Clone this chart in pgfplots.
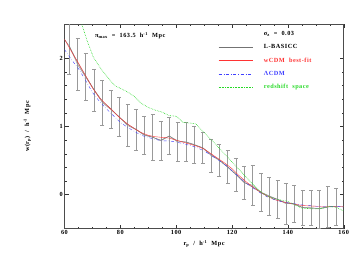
\documentclass[border=0pt]{standalone}
\usepackage{fontspec}
\setmainfont{Liberation Serif}
\newfontfamily\lab{Liberation Serif}[LetterSpace=8]
\usepackage{pgfplots}
\pgfplotsset{compat=1.18}
\usepackage{pgfplotstable}
\definecolor{lgray}{gray}{0.45}
\definecolor{ebgray}{gray}{0.6}
\definecolor{mygreen}{rgb}{0.15,0.85,0.15}
\definecolor{myblue}{rgb}{0.25,0.25,1}
\definecolor{myred}{rgb}{1,0.2,0.2}
\newcommand{\lf}{\fontsize{6.3}{7.5}\selectfont\lab\bfseries}

\pgfplotstableread{
x c e
61.7 2.185 0.415
64.7 1.91 0.38
67.6 1.725 0.345
70.6 1.535 0.305
73.6 1.35 0.33
76.6 1.25 0.28
79.6 1.14 0.29
82.6 1.015 0.305
85.6 0.955 0.305
88.6 0.87 0.28
91.6 0.845 0.335
94.5 0.79 0.28
97.5 0.86 0.27
100.5 0.775 0.285
103.5 0.775 0.285
106.5 0.735 0.275
109.5 0.685 0.225
112.5 0.575 0.245
115.4 0.505 0.235
118.4 0.405 0.245
121.4 0.295 0.245
124.4 0.175 0.245
127.4 0.135 0.295
130.4 0.035 0.285
133.4 -0.02 0.28
136.3 -0.07 0.28
139.3 -0.13 0.30
142.3 -0.135 0.275
145.3 -0.19 0.26
148.3 -0.19 0.26
151.3 -0.21 0.28
154.3 -0.18 0.30
157.3 -0.175 0.275
}\errtab

\begin{document}
\begin{tikzpicture}
\begin{axis}[
  at={(0,0)}, anchor=south west,
  scale only axis, width=279.2bp, height=204.4bp,
  xmin=60, xmax=160, ymin=-0.5, ymax=2.5,
  xtick={60,80,...,160}, ytick={0,1,2},
  minor x tick num=3, minor y tick num=4,
  tick align=inside, major tick length=4bp, minor tick length=2bp,
  xtick pos=both, ytick pos=both,
  xticklabel pos=lower, yticklabel pos=left,
  tick style={black!80, line width=0.4pt},
  axis line style={line width=0.5pt, black!70},
  /pgf/number format/assume math mode=true,
  ticklabel style={font=\lf},
  xticklabel style={inner sep=1pt},
  yticklabel style={inner sep=1.5pt},
  xlabel={r\textsubscript{p}\ \ /\ \ h\textsuperscript{-1}\ \ Mpc},
  ylabel={w(r\textsubscript{p})\ \ /\ \ h\textsuperscript{-1}\ \ Mpc},
  label style={font=\lf},
  xlabel style={at={(axis description cs:0.5,0)}, anchor=north, yshift=-8bp},
  ylabel style={at={(axis description cs:0,0.5)}, anchor=south, yshift=30bp},
  legend cell align=left,
  legend style={draw=none, fill=none, font=\lf,
    at={(axis description cs:0.55,0.975)}, anchor=north west,
    row sep=3.4bp, inner xsep=0pt, inner ysep=0pt,
    /tikz/every odd column/.append style={column sep=9bp}},
  legend image code/.code={\draw[#1] (0bp,0bp) -- (34bp,0bp);},
]
\addplot[ebgray, line width=0.6pt, mark=none, forget plot,
  error bars/.cd, y dir=both, y explicit,
  error bar style={ebgray, line width=0.6pt},
  error mark options={rotate=90, mark size=2bp, ebgray, line width=0.5pt}]
  table[x=x, y=c, y error=e] {\errtab};
\addlegendimage{empty legend}
\addlegendentry{σ\textsubscript{z}\ \ =\ \ 0.03}
\addplot[lgray, line width=0.4pt] coordinates {
(60,2.28)(61.7,2.18)(64.7,1.94)(67.6,1.74)(70.6,1.54)(73.6,1.37)(76.6,1.26)(79.6,1.14)(82.6,1.03)(85.6,0.96)(88.6,0.88)(91.6,0.84)(94.5,0.80)(97.5,0.86)(100.5,0.79)(103.5,0.77)(106.5,0.73)(109.5,0.69)(112.5,0.59)(115.4,0.51)(118.4,0.41)(121.4,0.30)(124.4,0.18)(127.4,0.11)(130.4,0.03)(133.4,-0.03)(136.3,-0.07)(139.3,-0.12)(142.3,-0.14)(145.3,-0.19)(148.3,-0.20)(151.3,-0.20)(154.3,-0.18)(157.3,-0.17)(160,-0.17)};
\addlegendentry{L-BASICC}
\addplot[myred, line width=0.4pt] coordinates {
(60,2.28)(62.5,2.10)(65,1.93)(67.5,1.75)(70,1.57)(72.5,1.42)(75,1.32)(77.5,1.22)(80,1.12)(82.5,1.04)(85,0.97)(87.5,0.91)(90,0.87)(92.5,0.85)(95,0.84)(97.5,0.83)(100,0.80)(102.5,0.77)(105,0.74)(107.5,0.71)(110,0.67)(112.5,0.60)(115,0.53)(117.5,0.46)(120,0.38)(122.5,0.28)(125,0.19)(127.5,0.11)(130,0.04)(132.5,-0.02)(135,-0.07)(137.5,-0.10)(140,-0.12)(145,-0.16)(150,-0.17)(155,-0.17)(160,-0.17)};
\addlegendentry{\textcolor{myred}{wCDM\ \ best-fit}}
\addplot[myblue, line width=0.4pt, dash dot] coordinates {
(60,2.13)(62.5,1.98)(65,1.85)(67.5,1.68)(70,1.50)(72.5,1.37)(75,1.26)(77.5,1.16)(80,1.06)(82.5,0.99)(85,0.93)(87.5,0.87)(90,0.84)(92.5,0.81)(95,0.79)(97.5,0.79)(100,0.77)(102.5,0.75)(105,0.72)(107.5,0.69)(110,0.64)(112.5,0.58)(115,0.51)(117.5,0.44)(120,0.35)(122.5,0.26)(125,0.17)(127.5,0.10)(130,0.03)(132.5,-0.03)(135,-0.07)(137.5,-0.10)(140,-0.12)(145,-0.15)(150,-0.17)(155,-0.17)(160,-0.18)};
\addlegendentry{\textcolor{myblue}{ΛCDM}}
\addplot[mygreen, line width=0.6pt, densely dotted] coordinates {
(65,2.65)(66.2,2.5)(68,2.27)(70.3,2.02)(73,1.85)(76.3,1.68)(78,1.60)(80,1.56)(82.5,1.51)(85,1.44)(87.5,1.34)(90,1.28)(92.5,1.24)(95,1.21)(97.5,1.16)(100,1.15)(102.5,1.06)(105,1.05)(107,1.04)(110,0.91)(112.5,0.81)(115,0.70)(117.5,0.59)(120,0.48)(122.5,0.37)(125,0.26)(127.5,0.15)(130,0.05)(132.5,-0.02)(135,-0.06)(137.5,-0.08)(140,-0.10)(142.5,-0.15)(145,-0.20)(150,-0.21)(152.5,-0.20)(155,-0.17)(157.5,-0.19)(160,-0.24)};
\addlegendentry{\textcolor{mygreen}{redshift\ \ space}}
\node[anchor=west, font=\lf, inner sep=0pt] at (axis description cs:0.109,0.943) {π\textsubscript{max}\ \ =\ \ 163.5\ \ h\textsuperscript{-1}\ \ Mpc};
\end{axis}
\path[use as bounding box] (-64.5bp,-44.3bp) rectangle (289.5bp,228.7bp);
\end{tikzpicture}
\end{document}
